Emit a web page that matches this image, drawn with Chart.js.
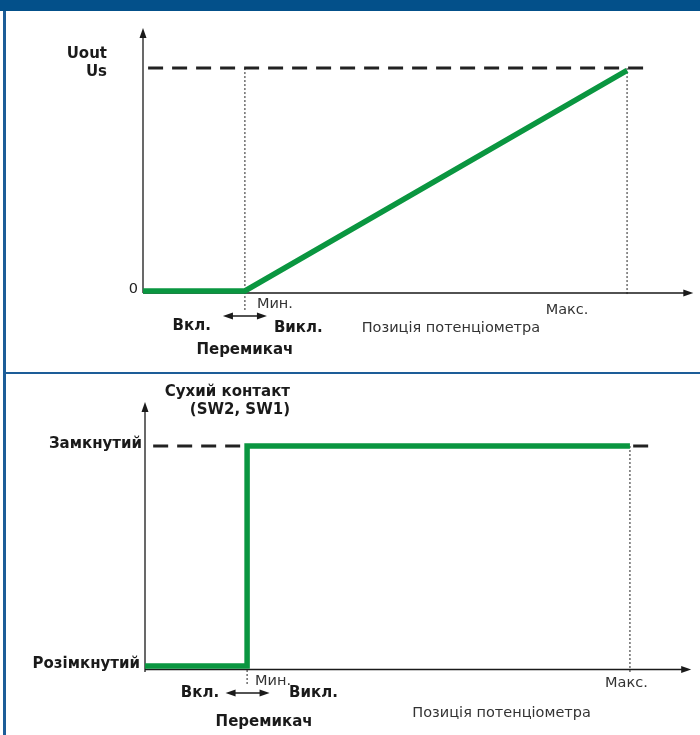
<!DOCTYPE html>
<html>
<head>
<meta charset="utf-8">
<script src="https://cdn.jsdelivr.net/npm/chart.js@4/dist/chart.umd.min.js"></script>
<style>
  html, body { margin: 0; padding: 0; background: #fff; }
  #page { position: relative; width: 700px; height: 735px; overflow: hidden; background: #fff; }
  #header { position: absolute; left: 0; top: 0; width: 700px; height: 11px; background: #03508a; }
  #lborder { position: absolute; left: 3px; top: 11px; width: 3px; height: 724px; background: #1d5d98; }
  #divider { position: absolute; left: 3px; top: 372px; width: 697px; height: 2px; background: #1d5d98; }
  .panel { position: absolute; left: 0; width: 700px; height: 360px; }
  #p1 { top: 12px; }
  #p2 { top: 375px; }
</style>
</head>
<body>
<div id="page">
  <div id="header"></div>
  <div id="lborder"></div>
  <div id="divider"></div>
  <canvas id="p1" class="panel" width="700" height="360"></canvas>
  <canvas id="p2" class="panel" width="700" height="360"></canvas>
</div>
<script>
// Potentiometer position (x axis, arbitrary units)
const POS_MIN = 20;
const POS_MAX = 95;
const posLabels = ['Мин.', 'Макс.'];
const posTitle = 'Позиція потенціометра';
const switchLabels = ['Вкл.', 'Викл.', 'Перемикач'];

// Top chart: output voltage
const outPos = [0, 20, 95];
const outVolt = [0, 0, 9.9];
const US_LEVEL = 10;
const outTicks = ['0', 'Us'];
const outTitle = 'Uout';

// Bottom chart: dry contact state
const contactPos = [0, 20, 20, 95];
const contactState = [0, 0, 1, 1];
const CLOSED = 1;
const contactTicks = ['Розімкнутий', 'Замкнутий'];
const contactTitle = ['Сухий контакт', '(SW2, SW1)'];

const GREEN = '#0a9640';
const INK = '#1a1a1a';
const FONT = '"DejaVu Sans", Verdana, sans-serif';

function pts(xs, ys) { return xs.map((x, i) => ({ x, y: ys[i] })); }

function arrowHead(ctx, x, y, dir) {
  // dir: 'up' | 'right' | 'left'
  ctx.beginPath();
  if (dir === 'up') { ctx.moveTo(x, y); ctx.lineTo(x - 3.5, y + 10); ctx.lineTo(x + 3.5, y + 10); }
  if (dir === 'right') { ctx.moveTo(x, y); ctx.lineTo(x - 10, y - 3.5); ctx.lineTo(x - 10, y + 3.5); }
  if (dir === 'left') { ctx.moveTo(x, y); ctx.lineTo(x + 10, y - 3.5); ctx.lineTo(x + 10, y + 3.5); }
  ctx.closePath();
  ctx.fill();
}

function text(ctx, s, x, y, align, bold) {
  ctx.font = bold ? 'bold 15px ' + FONT : '14.5px ' + FONT;
  ctx.textAlign = align;
  ctx.textBaseline = 'middle';
  ctx.fillText(s, x, y);
}

function decor(L) {
  return {
    id: 'decor',
    beforeDatasetsDraw(chart) {
      const ctx = chart.ctx, xs = chart.scales.x, ys = chart.scales.y;
      const x0 = xs.getPixelForValue(0), y0 = ys.getPixelForValue(0);
      const top = chart.chartArea.top, right = chart.chartArea.right;
      ctx.save();
      ctx.strokeStyle = INK; ctx.fillStyle = INK; ctx.lineWidth = 1.3;
      ctx.beginPath();
      ctx.moveTo(x0, y0 + L.yAxisBelow); ctx.lineTo(x0, top + 4);
      ctx.moveTo(x0, y0 + L.xAxisShift); ctx.lineTo(right - 4, y0 + L.xAxisShift);
      ctx.stroke();
      arrowHead(ctx, x0, top, 'up');
      arrowHead(ctx, right, y0 + L.xAxisShift, 'right');
      ctx.restore();
    },
    afterDraw(chart) {
      const ctx = chart.ctx, xs = chart.scales.x, ys = chart.scales.y;
      const x0 = xs.getPixelForValue(0), y0 = ys.getPixelForValue(0);
      const xMin = xs.getPixelForValue(POS_MIN), xMax = xs.getPixelForValue(POS_MAX);
      const yHi = ys.getPixelForValue(L.hiValue);
      ctx.save();
      ctx.fillStyle = INK; ctx.strokeStyle = INK;

      // y axis labels
      L.yLabels(ctx, x0, y0, yHi);

      // position labels
      ctx.fillStyle = '#333';
      text(ctx, posLabels[0], xMin + L.minDx, y0 + L.minDy, 'left', false);
      text(ctx, posLabels[1], xMax + L.maxDx, y0 + L.maxDy, 'center', false);
      text(ctx, posTitle, xMin + L.titleDx, y0 + L.titleDy, 'center', false);

      // switch arrow and labels
      ctx.fillStyle = INK;
      const ax = xMin + L.arrDx, ay = y0 + L.arrDy;
      ctx.lineWidth = 1.3;
      ctx.beginPath(); ctx.moveTo(ax - 16, ay); ctx.lineTo(ax + 16, ay); ctx.stroke();
      arrowHead(ctx, ax - 22, ay, 'left');
      arrowHead(ctx, ax + 22, ay, 'right');
      text(ctx, switchLabels[0], xMin + L.onDx, y0 + L.onDy, 'right', true);
      text(ctx, switchLabels[1], xMin + L.offDx, y0 + L.offDy, 'left', true);
      text(ctx, switchLabels[2], xMin + L.swDx, y0 + L.swDy, 'center', true);
      ctx.restore();
    }
  };
}

function lineDs(data, color, width, dash) {
  return {
    data, borderColor: color, borderWidth: width, borderDash: dash || [],
    pointRadius: 0, tension: 0, fill: false,
    borderCapStyle: 'butt', borderJoinStyle: 'miter'
  };
}

function makeChart(id, datasets, xMax, yMin, yMax, pad, L) {
  return new Chart(document.getElementById(id), {
    type: 'line',
    data: { datasets },
    plugins: [decor(L)],
    options: {
      responsive: false,
      animation: false,
      events: [],
      layout: { padding: pad },
      plugins: { legend: { display: false }, tooltip: { enabled: false } },
      scales: {
        x: { type: 'linear', min: 0, max: xMax, display: false },
        y: { type: 'linear', min: yMin, max: yMax, display: false }
      }
    }
  });
}

// Top: Uout vs potentiometer position
makeChart('p1', [
  lineDs(pts(outPos, outVolt), GREEN, 5.5),
  lineDs([{ x: 1, y: US_LEVEL }, { x: 99, y: US_LEVEL }], '#222', 3, [15, 9]),
  lineDs([{ x: POS_MIN, y: US_LEVEL }, { x: POS_MIN, y: -0.85 }], '#222', 1, [2, 2]),
  lineDs([{ x: POS_MAX, y: US_LEVEL }, { x: POS_MAX, y: -0.2 }], '#222', 1, [2, 2])
], 108, -1, 11.8, { left: 143, right: 6.7, top: 15.9, bottom: 58.7 }, {
  hiValue: US_LEVEL, yAxisBelow: 2, xAxisShift: 2,
  minDx: 12, minDy: 13, maxDx: -60, maxDy: 19, titleDx: 206, titleDy: 37,
  arrDx: 0, arrDy: 25, onDx: -34, onDy: 35, offDx: 29, offDy: 37, swDx: 0, swDy: 59,
  yLabels(ctx, x0, y0, yHi) {
    ctx.fillStyle = '#222';
    text(ctx, outTicks[0], x0 - 5, y0 - 2, 'right', false);
    ctx.fillStyle = INK;
    text(ctx, outTitle, x0 - 36, yHi - 14, 'right', true);
    text(ctx, outTicks[1], x0 - 36, yHi + 4.5, 'right', true);
  }
});

// Bottom: dry contact state vs potentiometer position
makeChart('p2', [
  lineDs(pts(contactPos, contactState), GREEN, 5.5),
  lineDs([{ x: 1.6, y: CLOSED }, { x: 99.3, y: CLOSED }], '#222', 3, [15, 9]),
  lineDs([{ x: POS_MIN, y: 0 }, { x: POS_MIN, y: -0.09 }], '#222', 1, [2, 2]),
  lineDs([{ x: POS_MAX, y: CLOSED }, { x: POS_MAX, y: -0.03 }], '#222', 1, [2, 2])
], 107, -0.1, 1.2, { left: 145, right: 8.8, top: 27, bottom: 47 }, {
  hiValue: CLOSED, yAxisBelow: 6, xAxisShift: 3.5,
  minDx: 8, minDy: 15, maxDx: -3.5, maxDy: 17, titleDx: 254.5, titleDy: 47,
  arrDx: 0.5, arrDy: 27, onDx: -28, onDy: 27, offDx: 42, offDy: 27, swDx: 17, swDy: 56,
  yLabels(ctx, x0, y0, yHi) {
    text(ctx, contactTicks[1], x0 - 3, yHi - 2, 'right', true);
    text(ctx, contactTicks[0], x0 - 5, y0 - 2, 'right', true);
    text(ctx, contactTitle[0], x0 + 145, yHi - 54, 'right', true);
    text(ctx, contactTitle[1], x0 + 145, yHi - 36, 'right', true);
  }
});
</script>
</body>
</html>
